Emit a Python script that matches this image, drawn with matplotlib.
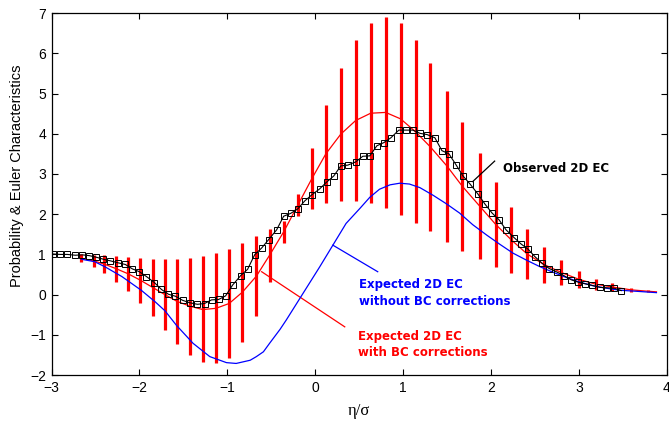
import matplotlib.pyplot as plt

# observed 2D Euler characteristic (black squares)
obs_x = [-2.98, -2.90, -2.82, -2.73, -2.65, -2.57, -2.49, -2.41, -2.33, -2.24,
         -2.16, -2.08, -2.00, -1.92, -1.83, -1.75, -1.67, -1.59, -1.51, -1.43,
         -1.34, -1.26, -1.18, -1.10, -1.02, -0.94, -0.85, -0.77, -0.69, -0.61,
         -0.53, -0.44, -0.36, -0.28, -0.20, -0.12, -0.04, 0.05, 0.13, 0.21,
         0.29, 0.37, 0.46, 0.54, 0.62, 0.70, 0.78, 0.86, 0.95, 1.03,
         1.11, 1.19, 1.27, 1.36, 1.44, 1.52, 1.60, 1.68, 1.76, 1.85,
         1.93, 2.01, 2.09, 2.17, 2.26, 2.34, 2.42, 2.50, 2.58, 2.66,
         2.75, 2.83, 2.91, 2.99, 3.07, 3.15, 3.24, 3.32, 3.40, 3.48]
obs_y = [1.01, 1.00, 1.00, 0.98, 0.99, 0.97, 0.93, 0.88, 0.84, 0.79,
         0.75, 0.64, 0.57, 0.45, 0.30, 0.13, 0.01, -0.04, -0.14, -0.20,
         -0.24, -0.22, -0.13, -0.12, -0.03, 0.24, 0.47, 0.63, 0.99, 1.16,
         1.37, 1.61, 1.95, 2.02, 2.13, 2.33, 2.48, 2.63, 2.80, 2.95,
         3.20, 3.22, 3.30, 3.44, 3.45, 3.70, 3.78, 3.90, 4.09, 4.09,
         4.09, 4.01, 3.98, 3.90, 3.58, 3.50, 3.23, 2.95, 2.75, 2.50,
         2.25, 2.03, 1.86, 1.61, 1.42, 1.26, 1.13, 0.94, 0.78, 0.65,
         0.56, 0.47, 0.37, 0.31, 0.27, 0.23, 0.18, 0.17, 0.16, 0.10]

# expected EC with BC corrections (red curve)
bc_x = [-2.66, -2.52, -2.40, -2.27, -2.13, -1.99, -1.85, -1.71, -1.57, -1.42,
        -1.28, -1.13, -0.98, -0.83, -0.67, -0.52, -0.36, -0.20, -0.04, 0.12,
        0.29, 0.46, 0.63, 0.80, 0.97, 1.14, 1.31, 1.50, 1.67, 1.87,
        2.05, 2.23, 2.41, 2.60, 2.80, 3.00, 3.19, 3.38, 3.59, 3.78, 3.88]
bc_y = [0.90, 0.84, 0.76, 0.65, 0.52, 0.36, 0.18, 0.00, -0.17, -0.29,
        -0.37, -0.34, -0.22, 0.06, 0.46, 0.98, 1.56, 2.22, 2.88, 3.50,
        3.99, 4.33, 4.51, 4.53, 4.37, 4.05, 3.67, 3.19, 2.70, 2.20,
        1.75, 1.36, 1.01, 0.75, 0.55, 0.38, 0.26, 0.19, 0.12, 0.085, 0.07]

# simulation spread around the red curve (vertical bars)
bar_x = bc_x[:-1]
bar_lo = [0.80, 0.69, 0.53, 0.32, 0.09, -0.20, -0.53, -0.89, -1.23, -1.50,
          -1.68, -1.71, -1.57, -1.17, -0.54, 0.32, 1.29, 1.95, 2.12, 2.29,
          2.33, 2.33, 2.27, 2.15, 1.98, 1.77, 1.57, 1.32, 1.09, 0.88,
          0.69, 0.55, 0.39, 0.30, 0.24, 0.16, 0.11, 0.10, 0.07, 0.06]
bar_hi = [1.01, 0.99, 0.99, 0.97, 0.94, 0.92, 0.89, 0.88, 0.89, 0.92,
          0.95, 1.04, 1.13, 1.28, 1.46, 1.63, 1.83, 2.50, 3.64, 4.72,
          5.64, 6.33, 6.75, 6.90, 6.75, 6.33, 5.77, 5.05, 4.30, 3.51,
          2.81, 2.17, 1.63, 1.19, 0.86, 0.59, 0.40, 0.28, 0.17, 0.11]

# expected EC without BC corrections (blue curve)
nobc_x = [-2.66, -2.51, -2.39, -2.20, -1.98, -1.82, -1.71, -1.58, -1.39, -1.20,
          -1.01, -0.90, -0.74, -0.67, -0.59, -0.52, -0.40, -0.33, -0.14, 0.05,
          0.20, 0.35, 0.51, 0.62, 0.73, 0.85, 0.96, 1.07, 1.19, 1.34,
          1.49, 1.64, 1.79, 1.95, 2.10, 2.25, 2.40, 2.55, 2.70, 2.85,
          3.01, 3.16, 3.31, 3.46, 3.61, 3.88]
nobc_y = [0.88, 0.82, 0.69, 0.45, 0.11, -0.18, -0.40, -0.76, -1.21, -1.54,
          -1.69, -1.71, -1.63, -1.54, -1.42, -1.21, -0.86, -0.63, 0.03, 0.69,
          1.23, 1.77, 2.15, 2.42, 2.62, 2.73, 2.77, 2.75, 2.66, 2.47,
          2.26, 2.03, 1.74, 1.48, 1.25, 1.03, 0.86, 0.70, 0.56, 0.43,
          0.31, 0.22, 0.16, 0.11, 0.09, 0.05]

fig, ax = plt.subplots(figsize=(6.69, 4.21), dpi=100)
fig.subplots_adjust(left=0.077, right=0.997, bottom=0.109, top=0.969)

ax.vlines(bar_x, bar_lo, bar_hi, color='#ff0000', lw=2.3, zorder=2)
ax.plot(bc_x, bc_y, color='#ff0000', lw=0.9, zorder=3)
ax.plot(nobc_x, nobc_y, color='#0000ff', lw=0.9, zorder=3)
ax.plot(obs_x, obs_y, 'k-', marker='s', ms=3.8, mfc='none', mec='k',
        mew=0.7, lw=0.8, zorder=4)

# annotations
ax.plot([1.79, 2.04], [2.81, 3.32], color='k', lw=0.9)
ax.text(2.13, 3.14, 'Observed 2D EC', fontsize=8.5, fontweight='bold',
        color='k', va='center', ha='left')
ax.plot([0.20, 0.71], [1.23, 0.57], color='#0000ff', lw=0.9)
ax.text(0.50, 0.05, 'Expected 2D EC\nwithout BC corrections', fontsize=8.5,
        fontweight='bold', color='#0000ff', va='center', ha='left',
        linespacing=1.4)
ax.plot([-0.61, 0.335], [0.57, -0.80], color='#ff0000', lw=0.9)
ax.text(0.49, -1.25, 'Expected 2D EC\nwith BC corrections', fontsize=8.5,
        fontweight='bold', color='#ff0000', va='center', ha='left',
        linespacing=1.3)

ax.set_xlim(-3, 4)
ax.set_ylim(-2, 7)
ax.set_xticks(range(-3, 5))
ax.set_yticks(range(-2, 8))
ax.tick_params(direction='in', length=4.5, top=True, right=True,
               labelsize=10, pad=4)
for lab in ax.get_xticklabels() + ax.get_yticklabels():
    lab.set_family('Liberation Sans')
for sp in ax.spines.values():
    sp.set_linewidth(0.9)

ax.set_xlabel('η/σ', family='Liberation Serif', fontsize=12, labelpad=6)
ax.set_ylabel('Probability & Euler Characteristics', family='Liberation Sans',
              fontsize=10.5)
ax.yaxis.set_label_coords(-0.045, 0.552)

fig.savefig('out.png', dpi=100)
